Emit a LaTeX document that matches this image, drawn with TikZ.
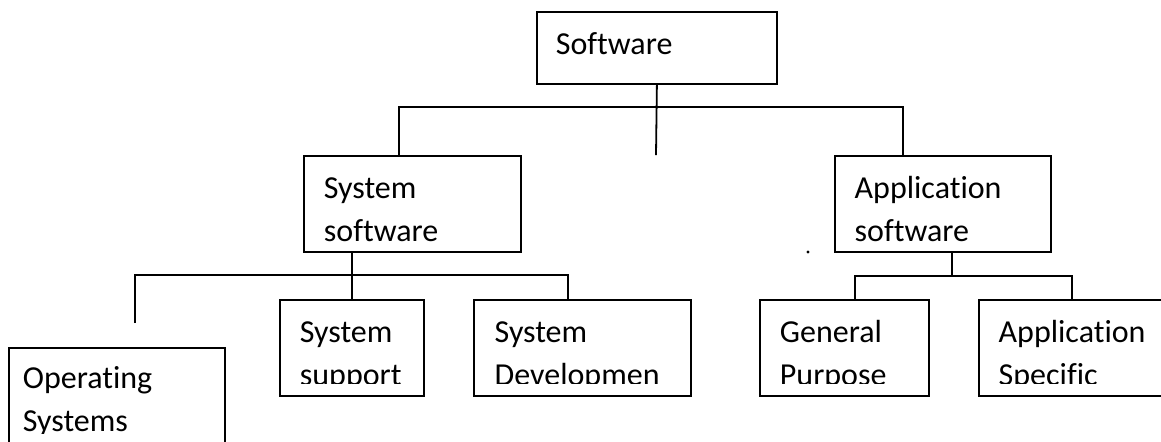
\documentclass[tikz,border=0pt]{standalone}
\usepackage{fontspec}
\setmainfont{Carlito}[Ligatures=NoCommon]
\usetikzlibrary{positioning}
\newcommand{\boxfont}{\fontsize{16pt}{21.5pt}\selectfont}
\tikzstyle{box} = [draw=black, rectangle, anchor=north west, inner sep=0pt, line width=0.9pt]
\tikzstyle{lbl} = [anchor=north west, inner sep=0pt, align=left, font=\boxfont]

\begin{document}
\begin{tikzpicture}[x=0.5pt, y=-0.5pt, line width=0.9pt]
    \useasboundingbox (0,0) rectangle (1161,441);

    % boxes
    \node[box, minimum width=120pt, minimum height=36pt] (soft) at (536,11) {};
    \node[box, minimum width=108.5pt, minimum height=48pt] (sys) at (303,155) {};
    \node[box, minimum width=108pt, minimum height=48pt, right=156pt of sys] (app) {};

    \node[box, minimum width=108pt, minimum height=60pt] (os) at (8,347) {};
    \node[box, minimum width=72pt, minimum height=48pt] (sup) at (279,299) {};
    \node[box, minimum width=108.5pt, minimum height=48pt, right=24pt of sup] (dev) {};
    \node[box, minimum width=84.5pt, minimum height=48pt] (gen) at (759,299) {};
    \node[box, minimum width=100pt, minimum height=48pt, right=24pt of gen] (spec) {};

    % labels
    \node[lbl, below right=6pt and 9.5pt of soft.north west] (soft-t) {\strut Software};
    \node[lbl, below right=6pt and 10pt of sys.north west] (sys-t) {\strut System\\software};
    \node[lbl, below right=6pt and 10pt of app.north west] (app-t) {\strut Application\\software};
    \begin{scope}
        \clip (0,0) rectangle (1161,383);
        \node[lbl, below right=6pt and 10pt of sup.north west] (sup-t) {\strut System\\support};
        \node[lbl, below right=6pt and 10.5pt of dev.north west] (dev-t) {\strut System\\Developmen};
        \node[lbl, below right=6pt and 10pt of gen.north west] (gen-t) {\strut General\\Purpose};
        \node[lbl, below right=6pt and 10pt of spec.north west] (spec-t) {\strut Application\\Specific};
    \end{scope}
    \begin{scope}
        \clip (0,0) rectangle (1161,433);
        \node[lbl, below right=5pt and 7pt of os.north west] (os-t) {\strut Operating\\Systems};
    \end{scope}

    % joints
    \coordinate (stub) at (656,155);
    \coordinate (j1l) at (399,107);
    \coordinate (j1r) at (903,107);
    \coordinate (osstub) at (135,323);
    \coordinate (j2r) at (568,275);
    \coordinate (j3l) at (855,276);
    \coordinate (j3m) at (952,276);
    \coordinate (j3r) at (1072,276);

    % connectors
    \draw (soft.south) -- (stub);
    \draw (sys.north -| j1l) |- (j1r) -- (app.north -| j1r);

    \draw (sys.south -| sup.north) -- (sup.north);
    \draw (osstub) |- (j2r) -- (dev.north -| j2r);

    \draw (app.south -| j3m) -- (j3m);
    \draw (gen.north -| j3l) |- (j3r) -- (spec.north -| j3r);

    \fill (808,252) circle (0.8pt);

\end{tikzpicture}
\end{document}
